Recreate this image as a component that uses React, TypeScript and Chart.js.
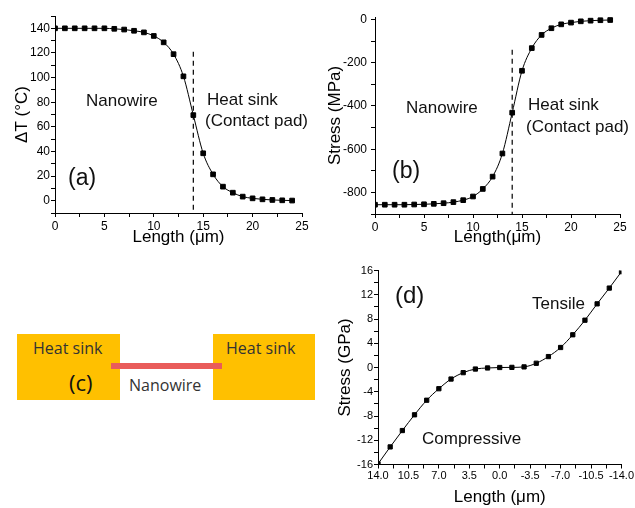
import React, { useEffect, useRef } from 'react';
import { Chart, registerables } from 'chart.js';

Chart.register(...registerables);

const FONT = "'Liberation Sans', Arial, Helvetica, sans-serif";
const SCHEMATIC_FONT = "'Open Sans', 'Noto Sans', sans-serif";

// ---------- Panel (a): temperature rise along the wire ----------
const lengthA = [0, 1, 2, 3, 4, 5, 6, 7, 8, 9, 10, 11, 12, 13, 14, 15, 16, 17, 18, 19, 20, 21, 22, 23, 24];
const deltaT = [140, 140, 140, 140, 140, 140, 139.6, 139, 138, 136.7, 133.8, 128.6, 119, 101, 69.5, 38.5, 21.4, 11.4, 6.5, 3.3, 1.9, 1.1, 0.6, 0.3, 0.1];
const contactX = 14;
const dashTopA = 121;
const yRangeA = [-10, 150];
const xRangeAB = [0, 25];

// ---------- Panel (b): thermal stress along the wire ----------
const lengthB = [0, 1, 2, 3, 4, 5, 6, 7, 8, 9, 10, 11, 12, 13, 14, 15, 16, 17, 18, 19, 20, 21, 22, 23, 24];
const stressB = [-857, -857, -857, -857, -856, -855, -853, -850, -845, -836, -819, -784, -727, -620, -431, -237, -132, -71, -40, -22, -14, -8, -5, -3, -2];
const dashTopB = -140;
const yRangeB = [-900, 12];

// ---------- Panel (d): stress vs position ----------
const lengthD = [14, 12.6, 11.2, 9.8, 8.4, 7, 5.6, 4.2, 2.8, 1.4, 0, -1.4, -2.8, -4.2, -5.6, -7, -8.4, -9.8, -11.2, -12.6, -14];
const stressD = [-15.9, -13.1, -10.4, -7.8, -5.4, -3.5, -1.9, -0.85, -0.25, -0.08, 0, 0.02, 0.1, 0.7, 1.8, 3.3, 5.4, 7.8, 10.5, 13.1, 15.8];
const yRangeD = [-16, 16];
const xRangeD = [-14, 14];

const isMult = (v: number, m: number) => Math.abs(v / m - Math.round(v / m)) < 1e-6;

type PanelSpec = {
  left: number;
  top: number;
  width: number;
  height: number;
  build: () => any;
};

function ChartPanel({ left, top, width, height, build }: PanelSpec) {
  const ref = useRef<HTMLCanvasElement | null>(null);
  useEffect(() => {
    if (!ref.current) return;
    const chart = new Chart(ref.current, build());
    return () => chart.destroy();
  }, []);
  return (
    <div style={{ position: 'absolute', left, top, width, height }}>
      <canvas ref={ref} width={width} height={height} style={{ display: 'block' }} />
    </div>
  );
}

function axisCommon(opts: {
  min: number;
  max: number;
  step: number;
  labelEvery: number;
  fmt?: (v: number) => string;
  tickSize: number;
  title: string;
  titleSize: number;
  titlePad: any;
  tickPad: number;
  fixed: { width?: number; height?: number };
  reverse?: boolean;
}) {
  return {
    type: 'linear',
    min: opts.min,
    max: opts.max,
    reverse: !!opts.reverse,
    grid: {
      display: true,
      drawOnChartArea: false,
      drawTicks: true,
      tickLength: 4,
      tickWidth: 1,
      tickColor: (ctx: any) =>
        ctx.tick && isMult(ctx.tick.value, opts.step) ? '#000' : 'rgba(0,0,0,0)',
    },
    border: { display: true, color: '#000', width: 1 },
    ticks: {
      stepSize: opts.step,
      includeBounds: false,
      autoSkip: false,
      maxRotation: 0,
      color: '#000',
      padding: opts.tickPad,
      font: { family: FONT, size: opts.tickSize },
      callback: (v: any) => {
        const n = Number(v);
        if (!isMult(n, opts.labelEvery)) return '';
        return opts.fmt ? opts.fmt(n) : String(Math.round(n));
      },
    },
    title: {
      display: true,
      text: opts.title,
      color: '#000',
      font: { family: FONT, size: opts.titleSize },
      padding: opts.titlePad,
    },
    afterFit: (s: any) => {
      if (opts.fixed.width !== undefined) s.width = opts.fixed.width;
      if (opts.fixed.height !== undefined) s.height = opts.fixed.height;
    },
  };
}

const lineStyle = {
  borderColor: '#000',
  borderWidth: 1,
  backgroundColor: '#000',
  pointStyle: 'rect',
  pointRadius: 3.3,
  pointBorderWidth: 1,
  pointBorderColor: '#000',
  pointBackgroundColor: '#000',
  cubicInterpolationMode: 'monotone',
};

const dashStyle = {
  borderColor: '#000',
  borderWidth: 1.2,
  borderDash: [5, 4],
  pointRadius: 0,
};

function baseOptions(padding: any, x: any, y: any) {
  return {
    responsive: false,
    animation: false,
    events: [],
    layout: { padding },
    plugins: { legend: { display: false }, tooltip: { enabled: false } },
    scales: { x, y },
  };
}

const buildA = () => ({
  type: 'line',
  data: {
    datasets: [
      { ...lineStyle, data: lengthA.map((x, i) => ({ x, y: deltaT[i] })) },
      { ...dashStyle, data: [{ x: contactX, y: dashTopA }, { x: contactX, y: yRangeA[0] }] },
    ],
  },
  options: baseOptions(
    { left: 0, top: 16, right: 16, bottom: 0 },
    axisCommon({
      min: xRangeAB[0], max: xRangeAB[1], step: 2.5, labelEvery: 5, tickSize: 12,
      title: 'Length (\u03bcm)', titleSize: 17, titlePad: { top: 0, bottom: 2 }, tickPad: 2,
      fixed: { height: 37 },
    }),
    axisCommon({
      min: yRangeA[0], max: yRangeA[1], step: 10, labelEvery: 20, tickSize: 12,
      title: '\u0394T (\u00b0C)', titleSize: 17, titlePad: { top: 12, bottom: 0 }, tickPad: 1,
      fixed: { width: 55 },
    })
  ),
});

const buildB = () => ({
  type: 'line',
  data: {
    datasets: [
      { ...lineStyle, data: lengthB.map((x, i) => ({ x, y: stressB[i] })) },
      { ...dashStyle, data: [{ x: contactX, y: dashTopB }, { x: contactX, y: yRangeB[0] }] },
    ],
  },
  options: baseOptions(
    { left: 0, top: 17, right: 15, bottom: 0 },
    axisCommon({
      min: xRangeAB[0], max: xRangeAB[1], step: 2.5, labelEvery: 5, tickSize: 12,
      title: 'Length(\u03bcm)', titleSize: 17, titlePad: { top: 0, bottom: 2 }, tickPad: 2,
      fixed: { height: 36 },
    }),
    axisCommon({
      min: yRangeB[0], max: yRangeB[1], step: 100, labelEvery: 200, tickSize: 12,
      title: 'Stress (MPa)', titleSize: 17, titlePad: { top: 7, bottom: 0 }, tickPad: 4,
      fixed: { width: 57 },
    })
  ),
});

const buildD = () => ({
  type: 'line',
  data: {
    datasets: [{ ...lineStyle, pointRadius: 3, data: lengthD.map((x, i) => ({ x, y: stressD[i] })) }],
  },
  options: baseOptions(
    { left: 0, top: 20.5, right: 13.5, bottom: 0 },
    axisCommon({
      min: xRangeD[0], max: xRangeD[1], step: 1.75, labelEvery: 3.5, tickSize: 11,
      fmt: (v) => v.toFixed(1), reverse: true,
      title: 'Length (\u03bcm)', titleSize: 17, titlePad: { top: 0, bottom: 0 }, tickPad: 1,
      fixed: { height: 43.5 },
    }),
    axisCommon({
      min: yRangeD[0], max: yRangeD[1], step: 2, labelEvery: 4, tickSize: 11,
      title: 'Stress (GPa)', titleSize: 17, titlePad: { top: 17, bottom: 0 }, tickPad: 1,
      fixed: { width: 60 },
    })
  ),
});

function Label({ x, y, size, text, family = FONT, color = '#111' }: { x: number; y: number; size: number; text: string; family?: string; color?: string }) {
  return (
    <div
      style={{
        position: 'absolute',
        left: x,
        top: y - size / 2,
        fontSize: size,
        lineHeight: `${size}px`,
        fontFamily: family,
        color,
        whiteSpace: 'nowrap',
      }}
    >
      {text}
    </div>
  );
}

function Box({ x, y, w, h, color }: { x: number; y: number; w: number; h: number; color: string }) {
  return <div style={{ position: 'absolute', left: x, top: y, width: w, height: h, background: color }} />;
}

export default function App() {
  return (
    <div
      style={{
        position: 'absolute',
        left: 0,
        top: 0,
        width: 635,
        height: 508,
        background: '#fff',
        overflow: 'hidden',
      }}
    >
      <ChartPanel left={0} top={0} width={318} height={250} build={buildA} />
      <ChartPanel left={318} top={0} width={317} height={250} build={buildB} />
      <ChartPanel left={318} top={250} width={317} height={258} build={buildD} />

      {/* Panel (a) annotations */}
      <Label x={86} y={100} size={17} text="Nanowire" />
      <Label x={207} y={99} size={17} text="Heat sink" />
      <Label x={205} y={120} size={17} text="(Contact pad)" />
      <Label x={68} y={177} size={23} text="(a)" />

      {/* Panel (b) annotations */}
      <Label x={406} y={107} size={17} text="Nanowire" />
      <Label x={528} y={104} size={17} text="Heat sink" />
      <Label x={526} y={126} size={17} text="(Contact pad)" />
      <Label x={392} y={170} size={23} text="(b)" />

      {/* Panel (c) schematic */}
      <Box x={17} y={334} w={103} h={66} color="#FFC000" />
      <Box x={213} y={334} w={102} h={66} color="#FFC000" />
      <Box x={111} y={363} w={111} h={5.5} color="#E95C5A" />
      <Label x={33} y={348} size={16} text="Heat sink" family={SCHEMATIC_FONT} color="#333" />
      <Label x={226} y={348} size={16} text="Heat sink" family={SCHEMATIC_FONT} color="#333" />
      <Label x={69} y={382} size={22} text="(c)" family={SCHEMATIC_FONT} color="#111" />
      <Label x={129} y={385} size={16} text="Nanowire" family={SCHEMATIC_FONT} color="#333" />

      {/* Panel (d) annotations */}
      <Label x={395} y={295} size={24} text="(d)" />
      <Label x={532} y={303} size={17} text="Tensile" />
      <Label x={422} y={438} size={17} text="Compressive" />
    </div>
  );
}
